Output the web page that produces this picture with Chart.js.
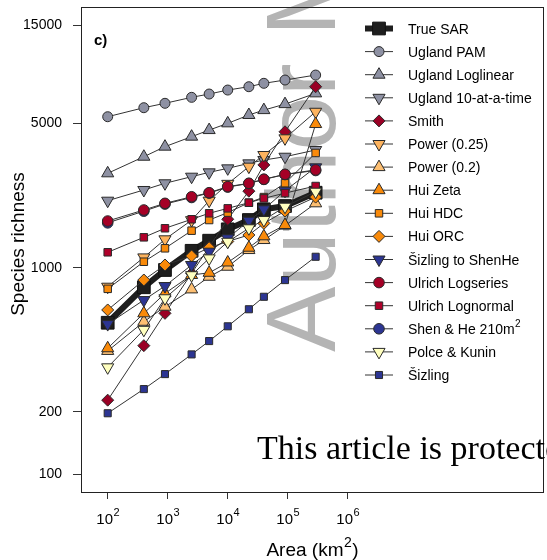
<!DOCTYPE html>
<html><head><meta charset="utf-8">
<script src="https://cdn.jsdelivr.net/npm/chart.js@4"></script>
<style>html,body{margin:0;padding:0;background:#fff;overflow:hidden}#wrap{width:547px;height:560px;position:relative}</style>
</head><body><div id="wrap"><canvas id="c" width="547" height="560"></canvas></div>
<script>
// ---- data ----
const areas = [100, 400, 900, 2500, 4900, 10000, 22500, 40000, 90000, 291600];
const trueSAR         = [541, 804, 975, 1208, 1352, 1535, 1703, 1919, 1991, 2310];
const uglandPAM       = [5395, 5966, 6266, 6698, 6950, 7266, 7541, 7833, 8126, 8590];
const uglandLoglinear = [2868, 3452, 3862, 4318, 4648, 5011, 5500, 5809, 6210, 7003];
const ugland10        = [2113, 2381, 2566, 2762, 2900, 3032, 3206, 3327, 3452, 3722];
const smith           = [228, 419, 601, 939, 1260, 1717, 2350, 3150, 4560, 7540];
const power025        = [809, 1122, 1373, 1700, 2113, 2550, 3090, 3519, 4239, 5702];
const power02         = [395, 547, 647, 785, 904, 1011, 1218, 1362, 1600, 2052];
const huiZeta         = [407, 601, 751, 922, 945, 1060, 1250, 1420, 1611, 4972];
const huiHDC          = [790, 1069, 1242, 1512, 1703, 1850, 2066, 2200, 2566, 3600];
const huiORC          = [624, 872, 1031, 1140, 1250, 1340, 1441, 1641, 1880, 2200];
const sizlingShenHe   = [533, 697, 815, 1031, 1196, 1389, 1690, 1919, 2361, 3067];
const ulrichLogseries = [1684, 1905, 2052, 2208, 2310, 2472, 2566, 2685, 2836, 2980];
const ulrichLognormal = [1188, 1404, 1553, 1717, 1836, 1940, 2066, 2169, 2300, 2489];
const shenHe          = [1650, 1880, 2035, 2190, 2300, 2460, 2560, 2680, 2830, 2960];
const polceKunin      = [329, 500, 711, 920, 1110, 1336, 1553, 1703, 1976, 2336];
const sizling         = [197, 258, 305, 380, 441, 520, 629, 723, 871, 1130];

const seriesLabels = ['True SAR','Ugland PAM','Ugland Loglinear','Ugland 10-at-a-time','Smith','Power (0.25)','Power (0.2)','Hui Zeta','Hui HDC','Hui ORC','Šizling to ShenHe','Ulrich Logseries','Ulrich Lognormal','Shen & He 210m²','Polce & Kunin','Šizling'];
const seriesValues = [trueSAR, uglandPAM, uglandLoglinear, ugland10, smith, power025, power02, huiZeta, huiHDC, huiORC, sizlingShenHe, ulrichLogseries, ulrichLognormal, shenHe, polceKunin, sizling];

const yTickValues = [100, 200, 1000, 5000, 15000];
const yTickLabels = ['100', '200', '1000', '5000', '15000'];
const xTickValues = [100, 1000, 10000, 100000, 1000000];
const xTickBase = '10';
const xTickExps = ['2', '3', '4', '5', '6'];

// ---- styles ----
const styles = [
  {shape:'rect', rot:0, r:9, fill:'#1e1e1e', lw:6, lc:'#1e1e1e'},
  {shape:'circle', rot:0, r:5, fill:'#8e91a3'},
  {shape:'triangle', rot:0, r:7, fill:'#8e91a3'},
  {shape:'triangle', rot:180, r:7, fill:'#8e91a3'},
  {shape:'rectRot', rot:0, r:6, fill:'#9a0025'},
  {shape:'triangle', rot:180, r:7, fill:'#fdb35e'},
  {shape:'triangle', rot:0, r:7, fill:'#fdbf72'},
  {shape:'triangle', rot:0, r:7, fill:'#f98a0a'},
  {shape:'rect', rot:0, r:5.3, fill:'#f98a0a'},
  {shape:'rectRot', rot:0, r:6, fill:'#f98a0a'},
  {shape:'triangle', rot:180, r:7, fill:'#2c3592'},
  {shape:'circle', rot:0, r:5.3, fill:'#a50026'},
  {shape:'rect', rot:0, r:5.3, fill:'#b0002a'},
  {shape:'circle', rot:0, r:5.3, fill:'#2c3592'},
  {shape:'triangle', rot:180, r:7, fill:'#ffffbf'},
  {shape:'rect', rot:0, r:5, fill:'#2c3592'}
];
const drawOrder = [16,15,14,13,12,11,10,9,8,7,6,4,3,5,2,1];

const FONT = '"Liberation Sans", Arial, Helvetica, sans-serif';
Chart.defaults.font.family = FONT;

const datasets = seriesValues.map((vals, i) => {
  const s = styles[i];
  return {
    label: seriesLabels[i],
    data: areas.map((a, j) => ({x: a, y: vals[j]})),
    borderColor: s.lc || '#333333',
    borderWidth: s.lw || 1,
    pointStyle: s.shape,
    rotation: s.rot,
    pointRadius: s.r,
    pointHoverRadius: s.r,
    pointBackgroundColor: s.fill,
    pointBorderColor: i === 0 ? '#111' : '#2a2a2a',
    pointBorderWidth: 1,
    tension: 0,
    fill: false,
    clip: false,
    order: drawOrder[i]
  };
});

function supText(ctx, base, sup, x, y, bs, ss, rise, align) {
  ctx.font = bs + 'px ' + FONT;
  const wb = ctx.measureText(base).width;
  ctx.font = ss + 'px ' + FONT;
  const ws = ctx.measureText(sup).width;
  let x0 = x;
  if (align === 'center') x0 = x - (wb + ws) / 2;
  ctx.textAlign = 'left';
  ctx.textBaseline = 'alphabetic';
  ctx.font = bs + 'px ' + FONT;
  ctx.fillText(base, x0, y);
  ctx.font = ss + 'px ' + FONT;
  ctx.fillText(sup, x0 + wb + 0.5, y - rise);
  return x0 + wb + ws + 0.5;
}

const decor = {
  id: 'decor',
  beforeDatasetsDraw(chart) {
    const ctx = chart.ctx;
    ctx.save();
    ctx.translate(335, 352);
    ctx.rotate(-Math.PI / 2);
    ctx.font = '98px ' + FONT;
    ctx.fillStyle = '#b4b4b4';
    ctx.textAlign = 'left';
    ctx.textBaseline = 'alphabetic';
    ctx.fillText('Author Manuscript', 0, 0);
    ctx.restore();
  },
  afterDraw(chart) {
    const ctx = chart.ctx;
    const ca = chart.chartArea;
    const xs = chart.scales.x;
    ctx.save();
    // frame
    ctx.strokeStyle = '#222';
    ctx.lineWidth = 1;
    ctx.strokeRect(Math.round(ca.left) + 0.5, Math.round(ca.top) + 0.5, Math.round(ca.right - ca.left) - 1, Math.round(ca.bottom - ca.top));
    // x tick labels
    ctx.fillStyle = '#000';
    xTickValues.forEach((v, i) => {
      const px = xs.getPixelForValue(v);
      supText(ctx, xTickBase, xTickExps[i], px, 524, 15, 11, 8, 'center');
    });
    // x title with superscript
    ctx.fillStyle = '#000';
    ctx.font = '19px ' + FONT;
    const t1 = 'Area (km', t2 = '2', t3 = ')';
    const w1 = ctx.measureText(t1).width;
    const w3 = ctx.measureText(t3).width;
    ctx.font = '14px ' + FONT;
    const w2 = ctx.measureText(t2).width;
    let x0 = (ca.left + ca.right) / 2 - (w1 + w2 + w3 + 1) / 2;
    ctx.textAlign = 'left';
    ctx.textBaseline = 'alphabetic';
    ctx.font = '19px ' + FONT;
    ctx.fillText(t1, x0, 556);
    ctx.font = '14px ' + FONT;
    ctx.fillText(t2, x0 + w1 + 0.5, 547);
    ctx.font = '19px ' + FONT;
    ctx.fillText(t3, x0 + w1 + w2 + 1, 556);
    // y title
    ctx.save();
    ctx.translate(24, 244);
    ctx.rotate(-Math.PI / 2);
    ctx.textAlign = 'center';
    ctx.textBaseline = 'alphabetic';
    ctx.font = '19px ' + FONT;
    ctx.fillText('Species richness', 0, 0);
    ctx.restore();
    // panel label
    ctx.font = 'bold 15px ' + FONT;
    ctx.textAlign = 'left';
    ctx.fillText('c)', 94, 45);
    // legend
    const ly0 = 28.5, dy = 23.1;
    chart.data.datasets.forEach((ds, i) => {
      const y = ly0 + i * dy;
      ctx.strokeStyle = ds.borderColor;
      ctx.lineWidth = ds.borderWidth;
      ctx.lineCap = 'butt';
      ctx.beginPath();
      ctx.moveTo(365, y);
      ctx.lineTo(393, y);
      ctx.stroke();
      ctx.fillStyle = ds.pointBackgroundColor;
      ctx.strokeStyle = ds.pointBorderColor;
      ctx.lineWidth = 1;
      Chart.helpers.drawPoint(ctx, {pointStyle: ds.pointStyle, rotation: ds.rotation, radius: ds.pointRadius, borderWidth: 1}, 379, y);
      ctx.fillStyle = '#000';
      const lab = ds.label;
      if (lab.endsWith('²')) {
        supText(ctx, lab.slice(0, -1), '2', 408, y + 5, 14, 10, 7, 'left');
      } else {
        ctx.font = '14px ' + FONT;
        ctx.textAlign = 'left';
        ctx.textBaseline = 'alphabetic';
        ctx.fillText(lab, 408, y + 5);
      }
    });
    // overlay notice
    ctx.fillStyle = '#000';
    ctx.font = '34px "Liberation Serif", "DejaVu Serif", serif';
    ctx.textAlign = 'left';
    ctx.textBaseline = 'alphabetic';
    ctx.fillText('This article is protected by copyright. All rights reserved', 257, 459);
    ctx.restore();
  }
};

new Chart(document.getElementById('c'), {
  type: 'line',
  data: {datasets},
  options: {
    responsive: false,
    animation: false,
    devicePixelRatio: 1,
    layout: {autoPadding: false, padding: {top: 7, right: 3, left: 0, bottom: 0}},
    plugins: {legend: {display: false}, tooltip: {enabled: false}},
    scales: {
      x: {
        type: 'logarithmic',
        position: 'bottom',
        min: 35.9, max: 1.86e9,
        afterBuildTicks: s => { s.ticks = xTickValues.map(v => ({value: v})); },
        afterFit: s => { s.height = 68; s.paddingLeft = 0; s.paddingRight = 0; },
        ticks: {display: false, autoSkip: false},
        grid: {display: true, drawOnChartArea: false, drawTicks: true, tickLength: 7, color: '#333', lineWidth: 1},
        border: {display: false}
      },
      y: {
        type: 'logarithmic',
        position: 'left',
        min: 81.8, max: 18360,
        afterBuildTicks: s => { s.ticks = yTickValues.map(v => ({value: v})); },
        afterFit: s => { s.width = 81; s.paddingTop = 0; s.paddingBottom = 0; },
        ticks: {autoSkip: false, padding: 11, color: '#000', font: {size: 14, family: FONT}, callback: (v, i) => yTickLabels[i]},
        grid: {display: true, drawOnChartArea: false, drawTicks: true, tickLength: 8, color: '#333', lineWidth: 1},
        border: {display: false}
      }
    }
  },
  plugins: [decor]
});
</script></body></html>
